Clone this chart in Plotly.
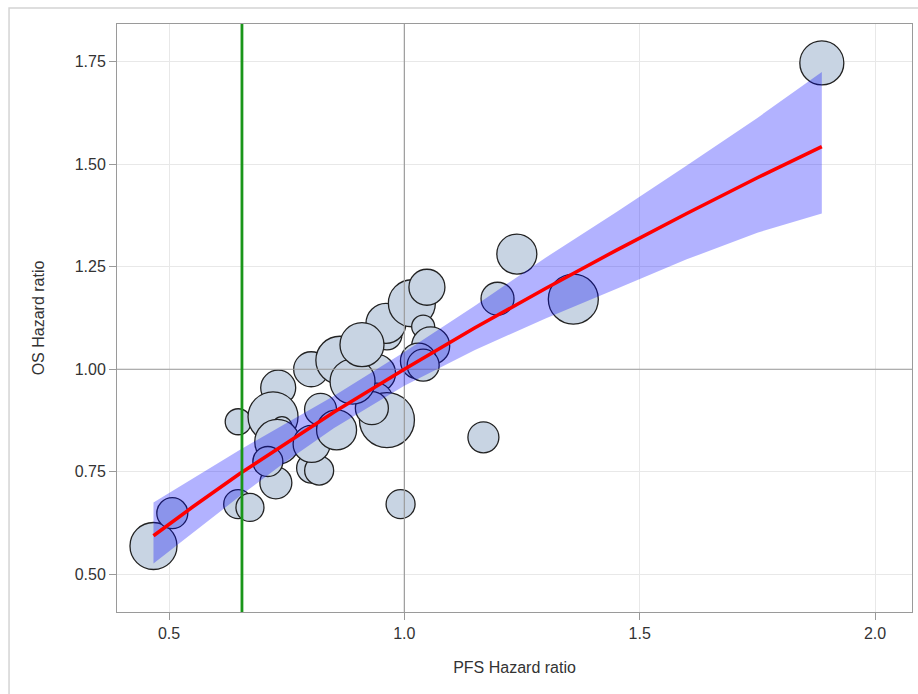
import plotly.graph_objects as go

# ---- data ----
pfs_hr = [1.887, 0.467, 0.507, 0.647, 0.672, 0.647, 0.732, 0.802, 0.863, 0.941,
          0.963, 0.961, 1.016, 1.048, 1.040, 1.056, 1.030, 1.040, 0.941, 0.963,
          0.931, 1.168, 0.992, 1.239, 1.198, 1.359, 0.822, 0.721, 0.740, 0.730,
          0.727, 0.803, 0.819, 0.803, 0.856, 0.890, 0.910, 0.710]
os_hr = [1.747, 0.569, 0.649, 0.671, 0.663, 0.872, 0.955, 1.000, 1.022, 0.990,
         1.084, 1.112, 1.161, 1.200, 1.104, 1.057, 1.020, 1.010, 0.927, 0.876,
         0.905, 0.834, 0.671, 1.281, 1.172, 1.171, 0.902, 0.884, 0.860, 0.823,
         0.723, 0.759, 0.753, 0.818, 0.852, 0.970, 1.060, 0.775]
study_weight = [44, 47, 31, 29, 28, 26, 35, 35, 48, 38,
                30, 40, 47, 36, 23, 38, 36, 32, 32, 55,
                33, 31, 29, 40, 33, 50, 32, 50, 20, 45,
                32, 30, 29, 37, 40, 45, 44, 30]

# fitted regression line and its confidence band
fit_x = [0.467, 0.55, 0.65, 0.75, 0.85, 1.0, 1.15, 1.3, 1.45, 1.6, 1.75, 1.887]
fit_y = [0.594, 0.664, 0.745, 0.821, 0.895, 1.000, 1.101, 1.197, 1.290, 1.380, 1.467, 1.543]
fit_upper = [0.675, 0.734, 0.803, 0.869, 0.935, 1.042, 1.155, 1.272, 1.383, 1.497, 1.613, 1.725]
fit_lower = [0.526, 0.601, 0.690, 0.776, 0.856, 0.960, 1.047, 1.124, 1.196, 1.268, 1.333, 1.380]

ref_x = 1.0
ref_y = 1.0
threshold_x = 0.655

x_ticks = [0.5, 1.0, 1.5, 2.0]
x_labels = ["0.5", "1.0", "1.5", "2.0"]
y_ticks = [0.50, 0.75, 1.00, 1.25, 1.50, 1.75]
y_labels = ["0.50", "0.75", "1.00", "1.25", "1.50", "1.75"]

X_RANGE = [0.3895, 2.0786]
Y_RANGE = [0.408, 1.842]

FONT = "Liberation Sans, Arial, sans-serif"

fig = go.Figure()

# bubbles
fig.add_trace(go.Scatter(
    x=pfs_hr, y=os_hr, mode="markers",
    marker=dict(size=study_weight, sizemode="diameter", sizeref=1,
                color="#c8d4e3", opacity=1,
                line=dict(color="#222222", width=1.3)),
    hoverinfo="x+y", showlegend=False))

# reference lines (over bubbles, under band)
fig.add_trace(go.Scatter(x=[ref_x, ref_x], y=[Y_RANGE[0] - 1, Y_RANGE[1] + 1], mode="lines",
                         line=dict(color="#9b9b9b", width=1.2), hoverinfo="skip", showlegend=False))
fig.add_trace(go.Scatter(x=[X_RANGE[0] - 1, X_RANGE[1] + 1], y=[ref_y, ref_y], mode="lines",
                         line=dict(color="#9b9b9b", width=1.2), hoverinfo="skip", showlegend=False))

# confidence band
fig.add_trace(go.Scatter(
    x=fit_x + fit_x[::-1], y=fit_upper + fit_lower[::-1],
    fill="toself", fillcolor="rgba(0,0,255,0.3)", mode="lines",
    line=dict(width=0, color="rgba(0,0,255,0)"), hoverinfo="skip", showlegend=False))

# fitted line
fig.add_trace(go.Scatter(x=fit_x, y=fit_y, mode="lines",
                         line=dict(color="#ff0000", width=3.5), hoverinfo="skip", showlegend=False))

# green vertical threshold line
fig.add_trace(go.Scatter(x=[threshold_x, threshold_x], y=[Y_RANGE[0] - 1, Y_RANGE[1] + 1], mode="lines",
                         line=dict(color="#1a961a", width=2.8), hoverinfo="skip", showlegend=False))

# outer light frame
fig.add_shape(type="rect", xref="paper", yref="paper",
              x0=-0.1358, x1=1.05, y0=-0.3, y1=1.0272,
              line=dict(color="#d4d4d4", width=1.5), fillcolor="rgba(0,0,0,0)", layer="below")

axis_common = dict(
    showgrid=True, gridcolor="#e8e8e8", gridwidth=1,
    zeroline=False, showline=True, linecolor="#9a9a9a", linewidth=1, mirror=True,
    ticks="outside", ticklen=7, tickcolor="#9a9a9a",
    tickfont=dict(family=FONT, size=16, color="#333333"),
)

fig.update_layout(
    width=918, height=694,
    margin=dict(l=117, r=6, t=24, b=82),
    paper_bgcolor="white", plot_bgcolor="white",
    font=dict(family=FONT, color="#333333"),
    xaxis=dict(range=X_RANGE, tickvals=x_ticks, ticktext=x_labels,
               title=dict(text="PFS Hazard ratio", font=dict(family=FONT, size=16, color="#333333"), standoff=20),
               **axis_common),
    yaxis=dict(range=Y_RANGE, tickvals=y_ticks, ticktext=y_labels,
               title=dict(text="OS Hazard ratio", font=dict(family=FONT, size=16, color="#333333"), standoff=26),
               **axis_common),
    showlegend=False,
)

fig.write_html("out.html")
